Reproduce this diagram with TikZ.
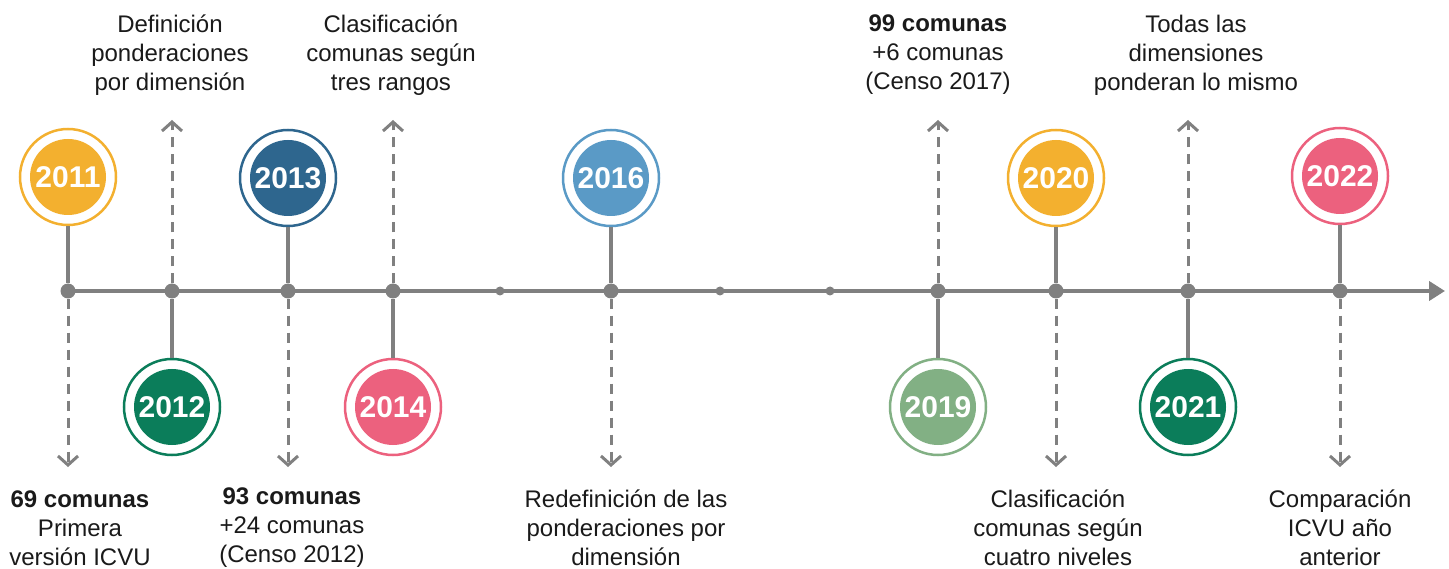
\documentclass[tikz,border=0pt]{standalone}
\usepackage{fontspec}
\setmainfont{Liberation Sans}
\usetikzlibrary{
    arrows.meta,
    positioning
}
\definecolor{axis}{HTML}{808080}
\definecolor{ink}{HTML}{1A1A1A}
\definecolor{amber}{HTML}{F3B02F}
\definecolor{forest}{HTML}{0B7D5A}
\definecolor{navy}{HTML}{2E668E}
\definecolor{rose}{HTML}{EC617E}
\definecolor{sky}{HTML}{5A9AC6}
\definecolor{sage}{HTML}{82B084}
\tikzset{
    % Year badge: thin ring around a filled disc
    year/.style={
        circle,
        minimum size=96pt,
        inner sep=0pt,
        draw=#1,
        line width=2.5pt,
        fill=white,
        path picture={\fill[#1] (path picture bounding box.center) circle (38pt);},
        text=white,
        font=\fontsize{30}{30}\selectfont\bfseries
    },
    % Points on the axis
    hub/.style={
        circle,
        fill=axis,
        inner sep=0pt,
        minimum size=15pt
    },
    minor hub/.style={
        circle,
        fill=axis,
        inner sep=0pt,
        minimum size=9pt
    },
    % Line styles
    axis line/.style={
        draw=axis,
        line width=4.5pt,
        -{Triangle[length=16pt, width=19pt]}
    },
    stem/.style={
        draw=axis,
        line width=3.2pt
    },
    pointer/.style={
        draw=axis,
        line width=3pt,
        dash pattern=on 10pt off 7pt,
        -{Straight Barb[length=9pt, width=20pt]}
    },
    % Label text
    note/.style={
        align=center,
        text=ink,
        inner sep=1pt,
        font=\fontsize{24}{29}\selectfont
    }
}

\begin{document}
\begin{tikzpicture}[x=1pt, y=-1pt]
        \useasboundingbox (0,0) rectangle (1449,569);

        % Axis
        \coordinate (start) at (68,291);
        \coordinate (end) at (1445,291);
        \draw[axis line] (start) -- (end);

        % Milestones on the axis
        \node[hub] (d11) at (68,291) {};
        \node[hub] (d12) at (172,291) {};
        \node[hub] (d13) at (288,291) {};
        \node[hub] (d14) at (393,291) {};
        \node[minor hub] (m1) at (500,291) {};
        \node[hub] (d16) at (611,291) {};
        \node[minor hub] (m2) at (720,291) {};
        \node[minor hub] (m3) at (830,291) {};
        \node[hub] (d19) at (938,291) {};
        \node[hub] (d20) at (1056,291) {};
        \node[hub] (d21) at (1188,291) {};
        \node[hub] (d22) at (1340,291) {};

        % Year badges
        \node[year=amber] (y11) at (68,177) {2011};
        \node[year=forest] (y12) at (172,407) {2012};
        \node[year=navy] (y13) at (288,178) {2013};
        \node[year=rose] (y14) at (393,407) {2014};
        \node[year=sky] (y16) at (611,178) {2016};
        \node[year=sage] (y19) at (938,407) {2019};
        \node[year=amber] (y20) at (1056,178) {2020};
        \node[year=forest] (y21) at (1188,407) {2021};
        \node[year=rose] (y22) at (1340,176) {2022};

        % Stems from badge to axis
        \foreach \n in {11,12,13,14,16,19,20,21,22} {
            \draw[stem] (y\n) -- (d\n);
        }

        % Pointer ends
        \coordinate (p11) at (68,467);
        \coordinate (p12) at (172,120);
        \coordinate (p13) at (288,467);
        \coordinate (p14) at (393,120);
        \coordinate (p16) at (611,467);
        \coordinate (p19) at (938,120);
        \coordinate (p20) at (1056,467);
        \coordinate (p21) at (1188,120);
        \coordinate (p22) at (1340,467);

        \foreach \n in {11,12,13,14,16,19,20,21,22} {
            \draw[pointer] (d\n) -- (p\n);
        }

        % Notes above the axis
        \node[note] (t12) at (170,55) {Definición\\ponderaciones\\por dimensión};
        \node[note] (t14) at (391,55) {Clasificación\\comunas según\\tres rangos};
        \node[note] (t19) at (938,55) {\textbf{99 comunas}\\+6 comunas\\(Censo 2017)};
        \node[note] (t21) at (1196,55) {Todas las\\dimensiones\\ponderan lo mismo};

        % Notes below the axis
        \node[note] (t11) at (80,528) {\textbf{69 comunas}\\Primera\\versión ICVU};
        \node[note] (t13) at (292,528) {\textbf{93 comunas}\\+24 comunas\\(Censo 2012)};
        \node[note] (t16) at (626,528) {Redefinición de las\\ponderaciones por\\dimensión};
        \node[note] (t20) at (1058,528) {Clasificación\\comunas según\\cuatro niveles};
        \node[note] (t22) at (1340,528) {Comparación\\ICVU año\\anterior};

    \end{tikzpicture}
\end{document}
